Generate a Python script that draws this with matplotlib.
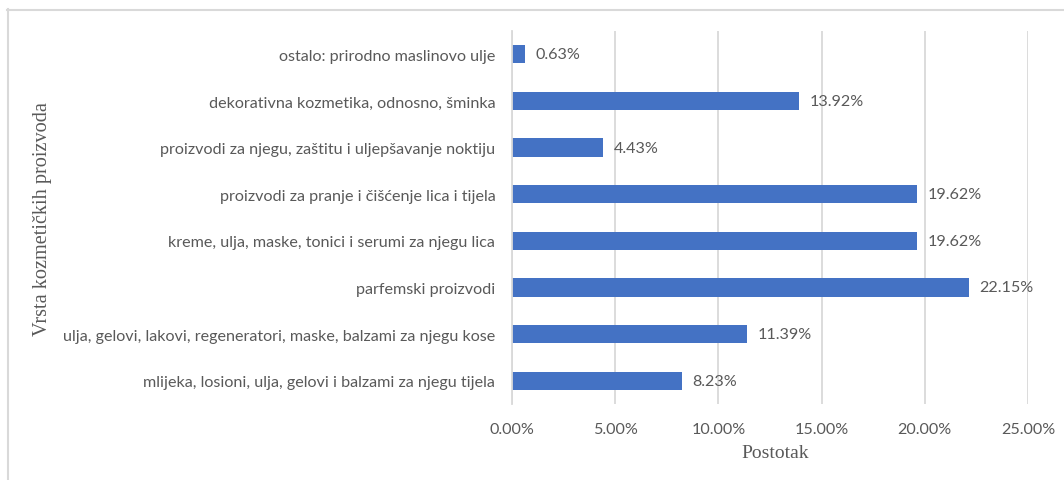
import matplotlib
matplotlib.use("Agg")
import matplotlib.pyplot as plt
from matplotlib.lines import Line2D

categories = [
    "mlijeka, losioni, ulja, gelovi i balzami za njegu tijela",
    "ulja, gelovi, lakovi, regeneratori, maske, balzami za njegu kose",
    "parfemski proizvodi",
    "kreme, ulja, maske, tonici i serumi za njegu lica",
    "proizvodi za pranje i čišćenje lica i tijela",
    "proizvodi za njegu, zaštitu i uljepšavanje noktiju",
    "dekorativna kozmetika, odnosno, šminka",
    "ostalo: prirodno maslinovo ulje",
]
values = [8.23, 11.39, 22.15, 19.62, 19.62, 4.43, 13.92, 0.63]
xticks = [0, 5, 10, 15, 20, 25]
xtick_labels = ["0.00%", "5.00%", "10.00%", "15.00%", "20.00%", "25.00%"]

W, H = 1064, 481
fig = plt.figure(figsize=(W / 100, H / 100), dpi=100)
left, right, top, bottom = 512, 1028, 32, 405
ax = fig.add_axes([left / W, 1 - bottom / H, (right - left) / W, (bottom - top) / H])

txt = "#595959"
grid = "#d9d9d9"
sans = ["Lato", "DejaVu Sans"]
serif = ["Liberation Serif", "DejaVu Serif"]
fs = 11.6

ypos = list(range(len(categories)))
ax.barh(ypos, values, height=0.39, color="#4472C4", zorder=3)
for y, v in zip(ypos, values):
    ax.text(v + 0.5, y, f"{v:.2f}%", va="center", ha="left", fontsize=fs,
            color=txt, family=sans)

ax.set_xlim(0, 25)
ax.set_ylim(-0.5, len(categories) - 0.5)
ax.set_xticks(xticks)
ax.set_xticklabels(xtick_labels, family=sans, fontsize=fs, color=txt)
ax.set_yticks(ypos)
ax.set_yticklabels(categories, family=sans, fontsize=fs, color=txt)
ax.tick_params(axis="both", length=0)
ax.tick_params(axis="y", pad=12)
ax.tick_params(axis="x", pad=13)
ax.xaxis.grid(True, color=grid, linewidth=1.3, zorder=0)
for s in ["top", "right", "bottom"]:
    ax.spines[s].set_visible(False)
ax.spines["left"].set_color(grid)
ax.spines["left"].set_linewidth(1.3)
ax.spines["left"].set_zorder(4)

fig.text(775 / W, 1 - 454 / H, "Postotak", ha="center", va="center",
         family=serif, fontsize=14, color=txt)
fig.text(43 / W, 1 - 219 / H, "Vrsta kozmetičkih proizvoda", rotation=90,
         ha="center", va="center", family=serif, fontsize=14.6, color=txt)

# chart area border (top and left visible)
fig.add_artist(Line2D([7 / W, 1], [1 - 10.5 / H, 1 - 10.5 / H], color=grid,
                      linewidth=1.5, transform=fig.transFigure))
fig.add_artist(Line2D([7.5 / W, 7.5 / W], [0, 1 - 10 / H], color=grid,
                      linewidth=1.5, transform=fig.transFigure))

fig.savefig("out.png", dpi=100, facecolor="white")
